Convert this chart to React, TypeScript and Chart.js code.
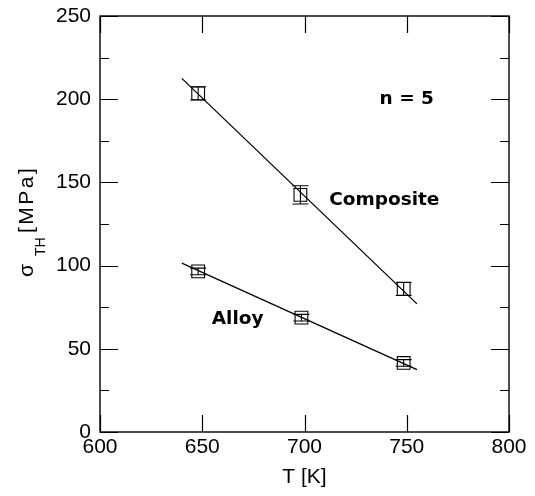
import React, { useEffect, useRef } from "react";
import { Chart, registerables } from "chart.js";

Chart.register(...registerables);

// ---- data ----
const tempComposite = [648, 698, 748.5];
const sigmaComposite = [203.5, 142.5, 86];
const errComposite = [4, 5.5, 4];

const tempAlloy = [648, 698.5, 748.5];
const sigmaAlloy = [96.5, 68.7, 41.5];
const errAlloy = [2, 2, 2];

const fitCompositeT = [640, 755];
const fitCompositeSigma = [212.5, 77];
const fitAlloyT = [640, 755];
const fitAlloySigma = [101.5, 37.5];

const xTicks = [600, 650, 700, 750, 800];
const yMajorTicks = [0, 50, 100, 150, 200, 250];
const yMinorTicks = [25, 75, 125, 175, 225];

const labels = [
  { text: "n = 5", t: 750, s: 197.1 },
  { text: "Composite", t: 739, s: 136.4 },
  { text: "Alloy", t: 667.3, s: 64.9 },
];

const TICK_FONT = "Liberation Sans, Arial, sans-serif";
const LABEL_FONT = "DejaVu Sans, sans-serif";

const decorPlugin = {
  id: "decor",
  afterDatasetsDraw(chart: any) {
    const ctx = chart.ctx;
    const xs = chart.scales.x;
    const ys = chart.scales.y;
    const { left, right, top, bottom } = chart.chartArea;
    ctx.save();
    ctx.strokeStyle = "#000";
    ctx.fillStyle = "#000";

    // error bars
    const drawErr = (ts: number[], ss: number[], es: number[]) => {
      ctx.lineWidth = 1.1;
      ts.forEach((t, i) => {
        const px = xs.getPixelForValue(t);
        const y1 = ys.getPixelForValue(ss[i] + es[i]);
        const y2 = ys.getPixelForValue(ss[i] - es[i]);
        ctx.beginPath();
        ctx.moveTo(px, y1);
        ctx.lineTo(px, y2);
        ctx.moveTo(px - 8, y1);
        ctx.lineTo(px + 8, y1);
        ctx.moveTo(px - 8, y2);
        ctx.lineTo(px + 8, y2);
        ctx.stroke();
      });
    };
    drawErr(tempComposite, sigmaComposite, errComposite);
    drawErr(tempAlloy, sigmaAlloy, errAlloy);

    // frame
    ctx.lineWidth = 1.4;
    ctx.strokeRect(left, top, right - left, bottom - top);

    // ticks (inward)
    ctx.lineWidth = 1.2;
    ctx.beginPath();
    xTicks.forEach((v) => {
      const px = Math.round(xs.getPixelForValue(v)) + 0.5;
      ctx.moveTo(px, bottom);
      ctx.lineTo(px, bottom - 17);
      ctx.moveTo(px, top);
      ctx.lineTo(px, top + 17);
    });
    yMajorTicks.forEach((v) => {
      const py = Math.round(ys.getPixelForValue(v)) + 0.5;
      ctx.moveTo(left, py);
      ctx.lineTo(left + 18, py);
      ctx.moveTo(right, py);
      ctx.lineTo(right - 18, py);
    });
    yMinorTicks.forEach((v) => {
      const py = Math.round(ys.getPixelForValue(v)) + 0.5;
      ctx.moveTo(left, py);
      ctx.lineTo(left + 9, py);
      ctx.moveTo(right, py);
      ctx.lineTo(right - 9, py);
    });
    ctx.stroke();

    // annotations
    ctx.font = "bold 18.5px " + LABEL_FONT;
    ctx.textAlign = "center";
    ctx.textBaseline = "alphabetic";
    labels.forEach((l) => {
      ctx.fillText(l.text, xs.getPixelForValue(l.t), ys.getPixelForValue(l.s));
    });

    // x title
    ctx.font = "21px " + TICK_FONT;
    ctx.fillText("T [K]", (left + right) / 2, 483);

    // y title with subscript
    ctx.translate(33, 277);
    ctx.rotate(-Math.PI / 2);
    ctx.textAlign = "left";
    ctx.font = "21px " + TICK_FONT;
    ctx.fillText("σ", 0, 0);
    ctx.font = "14px " + TICK_FONT;
    ctx.fillText("TH", 21, 12);
    ctx.font = "21px " + TICK_FONT;
    (ctx as any).letterSpacing = "2.5px";
    ctx.fillText("[MPa]", 44, 0);
    (ctx as any).letterSpacing = "0px";
    ctx.restore();
  },
};

export default function App() {
  const canvasRef = useRef<HTMLCanvasElement | null>(null);

  useEffect(() => {
    document.body.style.margin = "0";
    const canvas = canvasRef.current;
    if (!canvas) return;
    const chart = new Chart(canvas, {
      type: "scatter",
      data: {
        datasets: [
          {
            data: fitCompositeT.map((t, i) => ({ x: t, y: fitCompositeSigma[i] })),
            showLine: true,
            borderColor: "#000",
            borderWidth: 1.3,
            pointRadius: 0,
          },
          {
            data: fitAlloyT.map((t, i) => ({ x: t, y: fitAlloySigma[i] })),
            showLine: true,
            borderColor: "#000",
            borderWidth: 1.3,
            pointRadius: 0,
          },
          {
            data: tempComposite.map((t, i) => ({ x: t, y: sigmaComposite[i] })),
            pointStyle: "rect",
            pointRadius: 9,
            borderColor: "#000",
            borderWidth: 1.1,
            backgroundColor: "rgba(0,0,0,0)",
          },
          {
            data: tempAlloy.map((t, i) => ({ x: t, y: sigmaAlloy[i] })),
            pointStyle: "rect",
            pointRadius: 9,
            borderColor: "#000",
            borderWidth: 1.1,
            backgroundColor: "rgba(0,0,0,0)",
          },
        ],
      },
      options: {
        animation: false,
        responsive: false,
        devicePixelRatio: 1,
        layout: { padding: { left: 0, right: 26, top: 16, bottom: 0 } },
        plugins: {
          legend: { display: false },
          tooltip: { enabled: false },
        },
        scales: {
          x: {
            type: "linear",
            min: 600,
            max: 800,
            afterBuildTicks: (s: any) => {
              s.ticks = xTicks.map((v) => ({ value: v }));
            },
            afterFit: (s: any) => {
              s.height = 64;
              s.paddingLeft = 0;
              s.paddingRight = 0;
            },
            grid: { display: false, drawTicks: false },
            border: { display: false },
            ticks: {
              padding: 3,
              color: "#000",
              font: { family: TICK_FONT, size: 21 },
            },
          },
          y: {
            type: "linear",
            min: 0,
            max: 250,
            afterBuildTicks: (s: any) => {
              s.ticks = yMajorTicks.map((v) => ({ value: v }));
            },
            afterFit: (s: any) => {
              s.width = 100;
              s.paddingTop = 0;
              s.paddingBottom = 0;
            },
            grid: { display: false, drawTicks: false },
            border: { display: false },
            ticks: {
              padding: 9,
              color: "#000",
              font: { family: TICK_FONT, size: 21 },
            },
          },
        },
      },
      plugins: [decorPlugin],
    });
    return () => chart.destroy();
  }, []);

  return (
    <div style={{ width: 535, height: 496, background: "#fff" }}>
      <canvas ref={canvasRef} width={535} height={496} style={{ display: "block" }} />
    </div>
  );
}
